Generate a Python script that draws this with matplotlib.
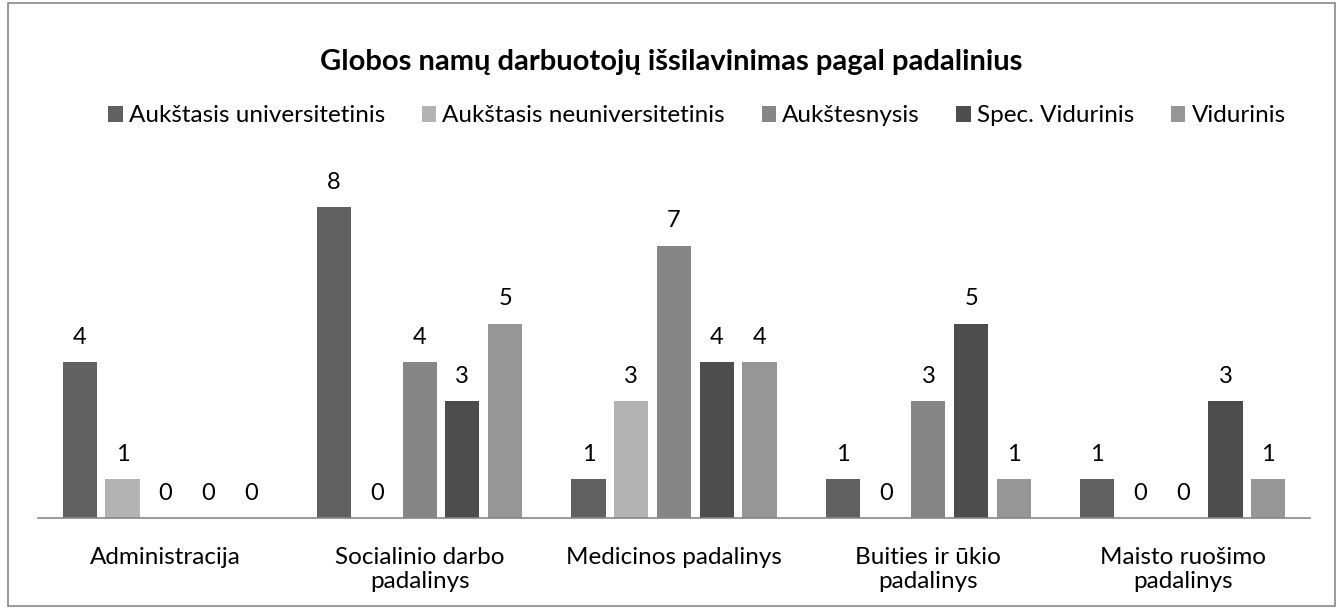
import matplotlib
matplotlib.use("Agg")
import matplotlib.pyplot as plt
import numpy as np
from matplotlib.patches import Rectangle

categories = ["Administracija", "Socialinio darbo\npadalinys", "Medicinos padalinys",
              "Buities ir ūkio\npadalinys", "Maisto ruošimo\npadalinys"]
series_names = ["Aukštasis universitetinis", "Aukštasis neuniversitetinis", "Aukštesnysis",
                "Spec. Vidurinis", "Vidurinis"]
aukst_univ = [4, 8, 1, 1, 1]
aukst_neuniv = [1, 0, 3, 0, 0]
aukstesnysis = [0, 4, 7, 3, 0]
spec_vid = [0, 3, 4, 5, 3]
vidurinis = [0, 5, 4, 1, 1]
series = [aukst_univ, aukst_neuniv, aukstesnysis, spec_vid, vidurinis]
colors = ["#606060", "#b3b3b3", "#868686", "#4d4d4d", "#969696"]

plt.rcParams['font.family'] = ['Lato', 'DejaVu Sans']
fig = plt.figure(figsize=(13.43, 6.08), dpi=100)
ax = fig.add_axes([38/1343, 1-518/608, 1272/1343, (518-168)/608])

x = np.arange(len(categories))
w = 0.134
pitch = 0.168
for i, (vals, c, name) in enumerate(zip(series, colors, series_names)):
    pos = x + (i - 2) * pitch
    ax.bar(pos, vals, width=w, color=c, label=name)
    for p, v in zip(pos, vals):
        ax.text(p, v + 0.37, str(v), ha='center', va='bottom', fontsize=17, color='black')

ax.set_xlim(-0.5, len(categories) - 0.5)
ax.set_ylim(0, 9)
ax.set_yticks([])
ax.set_xticks(x)
ax.set_xticklabels(categories, fontsize=17.5, linespacing=1.15)
ax.tick_params(axis='x', length=0, pad=21)
for s in ['top', 'right', 'left']:
    ax.spines[s].set_visible(False)
ax.spines['bottom'].set_color('#878787')
ax.spines['bottom'].set_linewidth(1.2)

fig.text(0.5, 1-62/608, "Globos namų darbuotojų išsilavinimas pagal padalinius",
         ha='center', va='center', fontsize=21, fontweight='bold')
fig.legend(loc='center', bbox_to_anchor=(697/1343, 1-116/608), ncol=5, frameon=False,
           fontsize=17.5, handlelength=0.6, handleheight=0.6, handletextpad=0.25,
           columnspacing=1.5)

fig.patches.append(Rectangle((8/1343, 2/608), 1327/1343, 603/608, transform=fig.transFigure,
                             fill=False, edgecolor='#878787', linewidth=1.2))
fig.savefig("out.png", dpi=100)
